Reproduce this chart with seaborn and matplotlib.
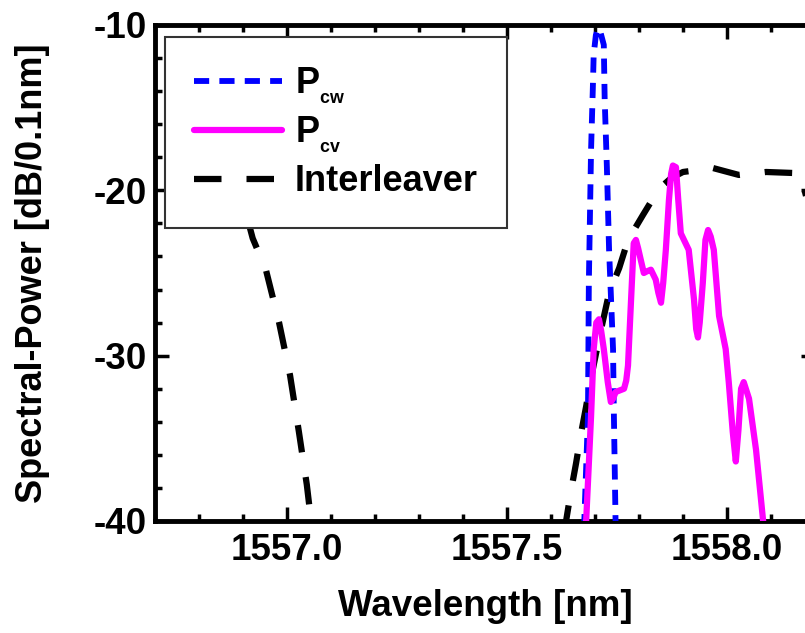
import matplotlib
matplotlib.use("Agg")
import matplotlib.pyplot as plt
import pandas as pd
import seaborn as sns
from matplotlib.ticker import MultipleLocator, FormatStrFormatter

# CW pump spectrum (wavelength in nm, power in dB/0.1nm)
cw_wavelength = [1557.675, 1557.684, 1557.686, 1557.691, 1557.695, 1557.697, 1557.702, 1557.707,
                 1557.713, 1557.720, 1557.722, 1557.727, 1557.732, 1557.741, 1557.743, 1557.747]
cw_power = [-40.5, -33.7, -25.6, -17.6, -13.9, -11.8, -10.6, -10.2,
            -10.5, -11.2, -14.5, -18.6, -23.6, -29.6, -33.7, -40.5]

# converted signal spectrum
cv_wavelength = [1557.679, 1557.691, 1557.697, 1557.703, 1557.709, 1557.714, 1557.720, 1557.729,
                 1557.736, 1557.741, 1557.747, 1557.766, 1557.771, 1557.775, 1557.782, 1557.788,
                 1557.793, 1557.798, 1557.804, 1557.811, 1557.818, 1557.827, 1557.838, 1557.844,
                 1557.850, 1557.855, 1557.861, 1557.868, 1557.873, 1557.877, 1557.884, 1557.889,
                 1557.895, 1557.913, 1557.925, 1557.930, 1557.934, 1557.938, 1557.945, 1557.951,
                 1557.957, 1557.963, 1557.970, 1557.982, 1557.997, 1558.004, 1558.013, 1558.020,
                 1558.026, 1558.032, 1558.038, 1558.050, 1558.066, 1558.084]
cv_power = [-40.5, -33.7, -29.6, -28.0, -27.8, -28.5, -29.6, -31.6,
            -32.8, -32.6, -32.2, -32.0, -31.5, -30.6, -26.6, -23.2,
            -23.0, -23.5, -24.2, -25.0, -24.9, -24.8, -25.4, -26.2,
            -26.8, -25.6, -23.6, -20.6, -19.0, -18.5, -18.6, -20.5,
            -22.6, -23.6, -26.6, -28.4, -28.9, -28.0, -25.6, -23.0,
            -22.4, -22.8, -23.6, -27.6, -29.6, -31.6, -34.6, -36.4,
            -34.5, -32.0, -31.6, -32.6, -35.7, -40.5]

# interleaver transmission: falling edge of the previous passband
il_left_wavelength = [1556.912, 1556.922, 1556.952, 1556.982, 1557.007, 1557.027, 1557.045, 1557.057]
il_left_power = [-21.9, -22.9, -24.8, -28.0, -31.2, -34.6, -37.8, -40.5]

# interleaver transmission: next passband
il_right_wavelength = [1557.630, 1557.645, 1557.657, 1557.668, 1557.680, 1557.691, 1557.711, 1557.732,
                       1557.755, 1557.775, 1557.809, 1557.845, 1557.873, 1557.900, 1557.968, 1558.027,
                       1558.089, 1558.150, 1558.168, 1558.182, 1558.200]
il_right_power = [-40.7, -38.25, -36.5, -34.74, -33.05, -31.35, -28.75, -26.21,
                  -24.70, -23.01, -21.49, -19.92, -19.26, -18.89, -18.65, -19.07,
                  -18.89, -18.95, -19.13, -20.59, -23.0]

sns.set_theme(style="ticks")
plt.rcParams["font.family"] = ["Liberation Sans", "DejaVu Sans"]
plt.rcParams["font.weight"] = "bold"
plt.rcParams["axes.unicode_minus"] = False
plt.rcParams["mathtext.fontset"] = "custom"
plt.rcParams["mathtext.rm"] = "Liberation Sans:bold"
plt.rcParams["mathtext.bf"] = "Liberation Sans:bold"
plt.rcParams["mathtext.it"] = "Liberation Sans:bold"
for key in ["axes.edgecolor", "xtick.color", "ytick.color", "text.color", "axes.labelcolor"]:
    plt.rcParams[key] = "black"

W, H = 805, 633
fig = plt.figure(figsize=(W / 100, H / 100), dpi=100)
ax = fig.add_axes([155 / W, 1 - 521 / H, 660 / W, 496 / H])

cw = pd.DataFrame({"wavelength": cw_wavelength, "power": cw_power})
cv = pd.DataFrame({"wavelength": cv_wavelength, "power": cv_power})
il_left = pd.DataFrame({"wavelength": il_left_wavelength, "power": il_left_power})
il_right = pd.DataFrame({"wavelength": il_right_wavelength, "power": il_right_power})

sns.lineplot(data=cw, x="wavelength", y="power", ax=ax, color="#0000ff", lw=4.2,
             linestyle=(0, (2.6, 1.75)), label=r"$\mathrm{P}_{_{\mathrm{cw}}}$", zorder=3)
sns.lineplot(data=cv, x="wavelength", y="power", ax=ax, color="#ff00ff", lw=4.5,
             label=r"$\mathrm{P}_{_{\mathrm{cv}}}$", zorder=4)
sns.lineplot(data=il_left, x="wavelength", y="power", ax=ax, color="black", lw=4.5,
             linestyle=(0, (4.4, 4.0)), label="Interleaver", zorder=2)
sns.lineplot(data=il_right, x="wavelength", y="power", ax=ax, color="black", lw=4.5,
             linestyle=(0, (4.4, 4.0)), label="_nolegend_", zorder=2)

ax.set_xlim(1556.7, 1558.2)
ax.set_ylim(-40, -10)
ax.xaxis.set_major_locator(MultipleLocator(0.5))
ax.xaxis.set_minor_locator(MultipleLocator(0.1))
ax.xaxis.set_major_formatter(FormatStrFormatter("%.1f"))
ax.yaxis.set_major_locator(MultipleLocator(10))
ax.yaxis.set_minor_locator(MultipleLocator(2))
ax.tick_params(which="both", direction="in", top=True, right=True, width=2.5)
ax.tick_params(which="major", length=10, labelsize=26.5)
ax.tick_params(which="minor", length=5)
ax.tick_params(axis="x", pad=9)
ax.tick_params(axis="y", pad=6)
for s in ax.spines.values():
    s.set_linewidth(3.5)

ax.set_xlabel("Wavelength [nm]", fontsize=26.5, fontweight="bold")
ax.set_ylabel("Spectral-Power [dB/0.1nm]", fontsize=26, fontweight="bold")
ax.xaxis.label.set_va("center")
ax.xaxis.set_label_coords(485 / W, 1 - 607 / H, transform=fig.transFigure)
ax.yaxis.label.set_va("center")
ax.yaxis.set_label_coords(33 / W, 1 - 273 / H, transform=fig.transFigure)

leg = ax.legend(loc="upper left", bbox_to_anchor=(165 / W, 1 - 37 / H),
                bbox_transform=fig.transFigure, fontsize=26, frameon=True,
                fancybox=False, framealpha=1, edgecolor="#333333",
                borderpad=0.8, handlelength=2.45, handletextpad=0.35,
                labelspacing=0.25, borderaxespad=0)
leg.get_frame().set_linewidth(1.5)

fig.savefig("out.png", dpi=100)
